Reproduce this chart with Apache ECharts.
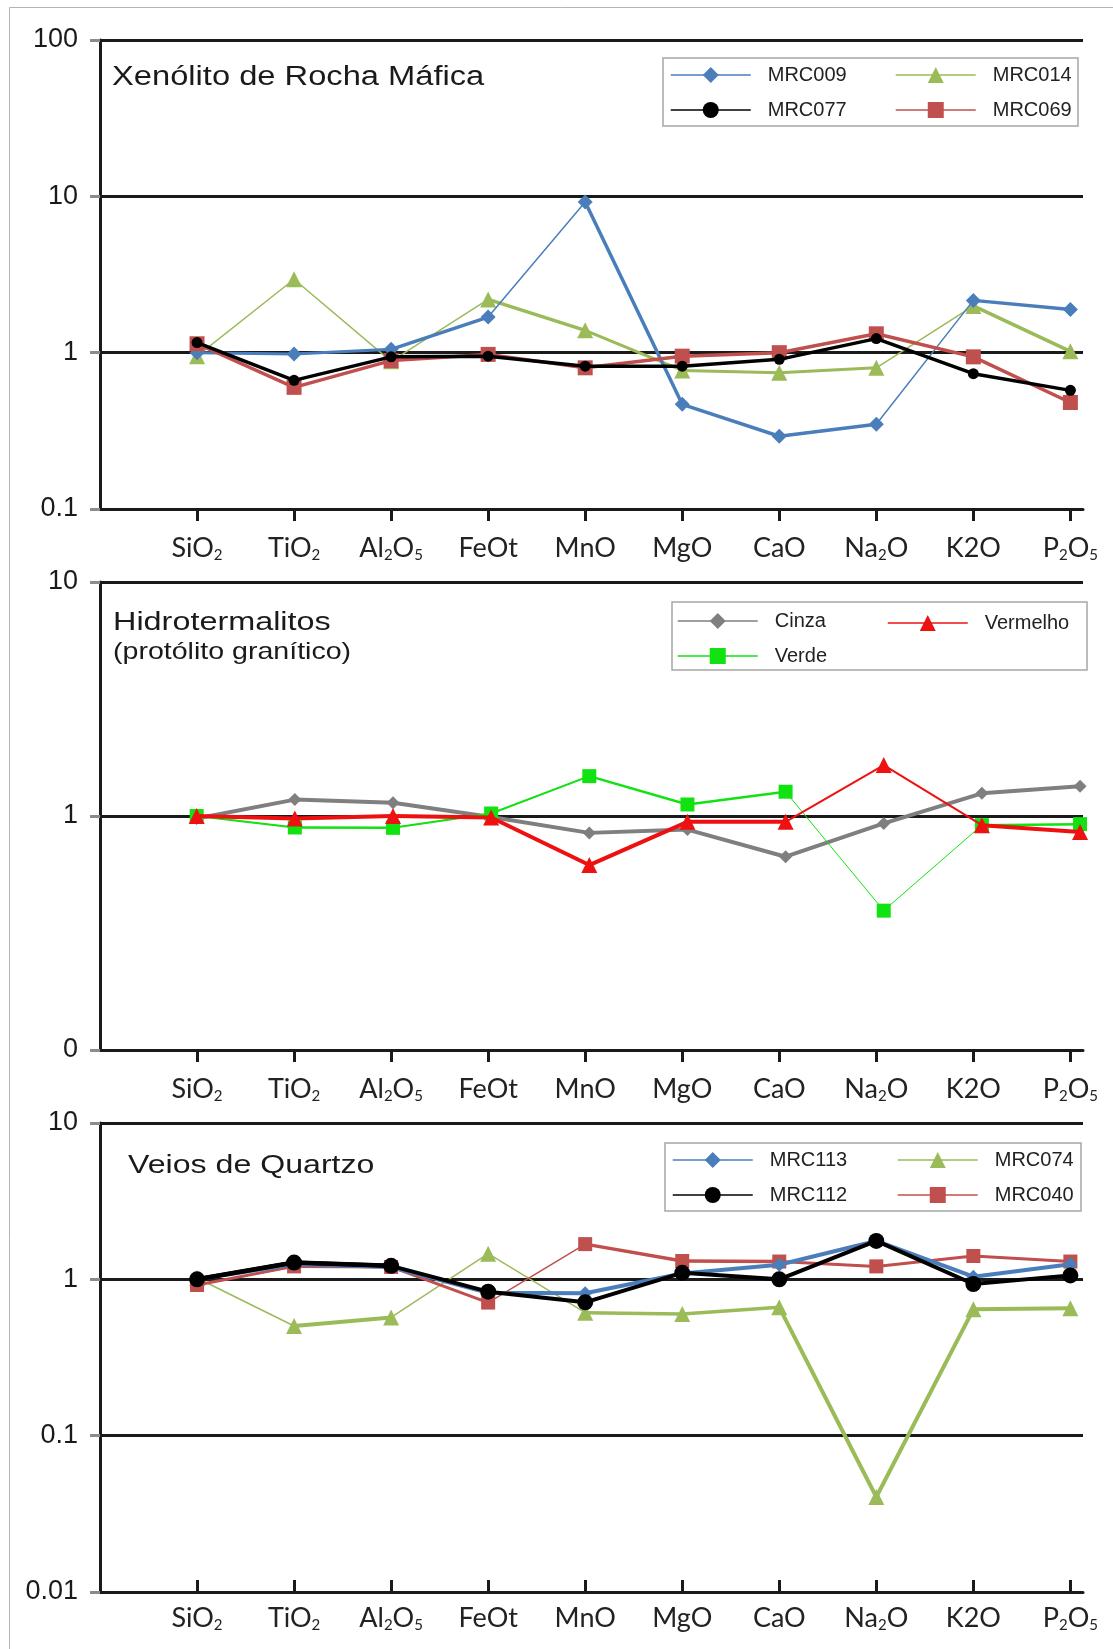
<!DOCTYPE html>
<html>
<head>
<meta charset="utf-8">
<script src="https://cdn.jsdelivr.net/npm/echarts@6/dist/echarts.min.js"></script>
<style>
  html, body { margin: 0; padding: 0; background: #ffffff; }
  #chart { width: 1113px; height: 1649px; }
</style>
</head>
<body>
<div id="chart"></div>
<script>
// Oxides along the x axis (normalised concentrations, log scale)
const CATEGORIES = ['SiO2', 'TiO2', 'Al2O5', 'FeOt', 'MnO', 'MgO', 'CaO', 'Na2O', 'K2O', 'P2O5'];
// Tick labels with subscripts (rich-text markup)
const TICK_LABELS = [
  '{n|SiO}{s|2}', '{n|TiO}{s|2}', '{n|Al}{s|2}{n|O}{s|5}', '{n|FeOt}', '{n|MnO}',
  '{n|MgO}', '{n|CaO}', '{n|Na}{s|2}{n|O}', '{n|K2O}', '{n|P}{s|2}{n|O}{s|5}'
];

// Xenólito de Rocha Máfica
const MRC009 = [1.00, 0.98, 1.05, 1.69, 9.20, 0.467, 0.292, 0.348, 2.16, 1.89];
const MRC014 = [0.95, 2.95, 0.88, 2.19, 1.39, 0.77, 0.745, 0.80, 1.99, 1.02];
const MRC077 = [1.16, 0.665, 0.94, 0.95, 0.82, 0.82, 0.906, 1.23, 0.734, 0.574];
const MRC069 = [1.14, 0.60, 0.89, 0.975, 0.80, 0.95, 1.00, 1.32, 0.94, 0.48];

// Hidrotermalitos (protólito granítico)
const CINZA    = [0.975, 1.175, 1.14, 0.99, 0.847, 0.875, 0.67, 0.93, 1.25, 1.34];
const VERDE    = [1.00, 0.893, 0.89, 1.025, 1.48, 1.12, 1.27, 0.394, 0.914, 0.923];
const VERMELHO = [1.00, 0.976, 1.00, 0.985, 0.617, 0.944, 0.944, 1.65, 0.914, 0.855];

// Veios de Quartzo
const MRC113 = [1.00, 1.25, 1.20, 0.82, 0.815, 1.09, 1.24, 1.76, 1.04, 1.25];
const MRC112 = [1.00, 1.28, 1.22, 0.834, 0.713, 1.10, 1.00, 1.76, 0.934, 1.06];
const MRC074 = [1.02, 0.503, 0.57, 1.46, 0.612, 0.60, 0.662, 0.0405, 0.643, 0.653];
const MRC040 = [0.92, 1.21, 1.20, 0.71, 1.68, 1.31, 1.30, 1.21, 1.41, 1.30];

// Stroke width of each connecting segment (SiO2→TiO2 ... K2O→P2O5)
const SEG = {
  MRC009:   [3, 3, 3.5, 1.5, 3.5, 3.5, 3.5, 1.5, 3.5],
  MRC014:   [1.5, 1.5, 1.5, 3.5, 3, 3, 3, 1.5, 3.5],
  MRC077:   [3.5, 3.5, 3.5, 3.5, 3.5, 3.5, 3.5, 3.5, 3.5],
  MRC069:   [3.5, 3.5, 3.5, 3.5, 3.5, 3.5, 3.5, 3.5, 3.5],
  Cinza:    [4, 4, 4, 4, 4, 4, 4, 4, 4],
  Verde:    [2, 2.5, 2, 2, 2.5, 2.5, 1, 1, 2.5],
  Vermelho: [4, 4, 4, 4, 4, 4, 2, 2, 4],
  MRC113:   [4, 4, 4, 4, 4, 4, 4, 4, 4],
  MRC112:   [4.5, 4.5, 4, 4, 4, 4, 4, 4, 4],
  MRC074:   [1.5, 4, 1.5, 1.5, 3.5, 3.5, 4, 4, 4],
  MRC040:   [3, 3, 3, 1.5, 3.5, 3.5, 3, 3, 3]
};

const IDX = CATEGORIES.map((_, i) => i);
const INK = '#1a1a1a';
const SANS = '"Liberation Sans", Arial, sans-serif';

const RICH = {
  n: { fontFamily: 'Lato, "Open Sans", sans-serif', fontSize: 27, color: '#222', lineHeight: 30 },
  s: { fontFamily: 'Lato, "Open Sans", sans-serif', fontSize: 15, color: '#222', verticalAlign: 'bottom', lineHeight: 18 }
};

function xAxis(gridIndex, min, max, inside, margin) {
  return {
    type: 'value', gridIndex, min, max, position: 'bottom',
    splitLine: { show: false },
    axisLine: { show: true, onZero: false, lineStyle: { color: INK, width: 3 } },
    axisTick: { show: true, inside, length: 12, customValues: IDX, lineStyle: { color: INK, width: 3 } },
    axisLabel: {
      show: true, margin, customValues: IDX, rich: RICH,
      formatter: v => TICK_LABELS[Math.round(v)]
    }
  };
}

function yAxis(gridIndex, min, max, formatter) {
  return {
    type: 'log', logBase: 10, gridIndex, min, max,
    axisLine: { show: true, onZero: false, lineStyle: { color: INK, width: 3 } },
    axisTick: { show: true, length: 10, lineStyle: { color: '#8c8c8c', width: 3 } },
    splitLine: { show: true, lineStyle: { color: INK, width: 3 } },
    minorTick: { show: false },
    axisLabel: { margin: 22, fontFamily: SANS, fontSize: 27, color: INK, formatter }
  };
}

// One sample: markers (and thinnest stroke) in a main series, plus thicker
// strokes for the segments that are drawn heavier.
function profile(name, values, gi, xi, color, symbol, size, z) {
  const widths = SEG[name];
  const base = Math.min.apply(null, widths);
  const out = [{
    type: 'line', name, xAxisIndex: xi, yAxisIndex: gi, z,
    data: values.map((v, i) => [i, v]),
    symbol, symbolSize: size, showSymbol: true,
    lineStyle: { color, width: base },
    itemStyle: { color, borderWidth: 0 },
    emphasis: { disabled: true },
    animation: false
  }];
  widths.forEach((w, i) => {
    if (w <= base) return;
    out.push({
      type: 'line', name: name + ' ' + i, xAxisIndex: xi, yAxisIndex: gi, z: z - 0.5,
      data: [[i, values[i]], [i + 1, values[i + 1]]],
      symbol: 'none', silent: true,
      lineStyle: { color, width: w, cap: 'round', join: 'round' },
      emphasis: { disabled: true },
      animation: false
    });
  });
  return out;
}

function legend(names, left, top) {
  return {
    data: names, orient: 'vertical', left, top, padding: 0,
    itemWidth: 80, itemHeight: 20, itemGap: 15,
    selectedMode: false,
    lineStyle: { width: 1.5, opacity: 1 },
    textStyle: { fontFamily: SANS, fontSize: 20, color: '#222', padding: [0, 0, 0, 12] }
  };
}

function title(text, x, y, size, sx) {
  return {
    type: 'text', x, y, scaleX: sx, silent: true,
    style: { text, x: 0, y: 0, font: size + 'px ' + SANS, fill: INK, verticalAlign: 'middle', align: 'left' }
  };
}

function box(x, y, w, h) {
  return {
    type: 'rect', silent: true,
    shape: { x, y, width: w, height: h },
    style: { fill: 'none', stroke: '#a6a6a6', lineWidth: 1.5 }
  };
}

const chart = echarts.init(document.getElementById('chart'), null, { renderer: 'canvas' });

// The middle panel plots on a slightly wider oxide scale (axis 1, hidden);
// its visible oxide axis (axis 3) shares the layout of the other panels.
const middleDataAxis = Object.assign(xAxis(1, -0.985, 9.03, false, 24), { show: false });

chart.setOption({
  animation: false,
  backgroundColor: '#ffffff',
  grid: [
    { left: 100, top: 40, width: 983, height: 469 },
    { left: 100, top: 582, width: 983, height: 468 },
    { left: 100, top: 1123, width: 983, height: 469 }
  ],
  xAxis: [
    xAxis(0, -1, 9.13, false, 24),
    middleDataAxis,
    xAxis(2, -1, 9.13, true, 11),
    xAxis(1, -1, 9.13, false, 24)
  ],
  yAxis: [
    yAxis(0, 0.1, 100),
    yAxis(1, 0.1, 10, v => (Math.abs(v - 0.1) < 1e-9 ? '0' : String(v))),
    yAxis(2, 0.01, 10)
  ],
  legend: [
    legend(['MRC009', 'MRC077'], 670, 65),
    legend(['MRC014', 'MRC069'], 895, 65),
    legend(['Cinza', 'Verde'], 677, 611),
    legend(['Vermelho'], 887, 613),
    legend(['MRC113', 'MRC112'], 672, 1150),
    legend(['MRC074', 'MRC040'], 897, 1150)
  ],
  series: [].concat(
    profile('MRC014', MRC014, 0, 0, '#9bbb59', 'triangle', 16, 2),
    profile('MRC009', MRC009, 0, 0, '#4a7ebb', 'diamond', 15, 3),
    profile('MRC069', MRC069, 0, 0, '#c0504d', 'rect', 15, 4),
    profile('MRC077', MRC077, 0, 0, '#000000', 'circle', 11, 5),

    profile('Cinza', CINZA, 1, 1, '#7f7f7f', 'diamond', 13, 2),
    profile('Verde', VERDE, 1, 1, '#12e212', 'rect', 14, 3),
    profile('Vermelho', VERMELHO, 1, 1, '#ee1111', 'triangle', 16, 4),

    profile('MRC074', MRC074, 2, 2, '#9bbb59', 'triangle', 16, 2),
    profile('MRC040', MRC040, 2, 2, '#c0504d', 'rect', 14, 3),
    profile('MRC113', MRC113, 2, 2, '#4a7ebb', 'diamond', 14, 4),
    profile('MRC112', MRC112, 2, 2, '#000000', 'circle', 16, 5)
  ),
  graphic: [
    { type: 'rect', silent: true, shape: { x: 9.5, y: 7.5, width: 1300, height: 1800 },
      style: { fill: 'none', stroke: '#b4b4b4', lineWidth: 1 } },
    title('Xenólito de Rocha Máfica', 112, 78, 27, 1.21),
    title('Hidrotermalitos', 113, 622.5, 25.5, 1.27),
    title('(protólito granítico)', 113, 652, 24, 1.19),
    title('Veios de Quartzo', 128, 1166, 25.5, 1.26),
    box(663, 58, 415, 68),
    box(672, 602, 415, 68),
    box(665, 1143, 416, 68)
  ]
});
</script>
</body>
</html>
